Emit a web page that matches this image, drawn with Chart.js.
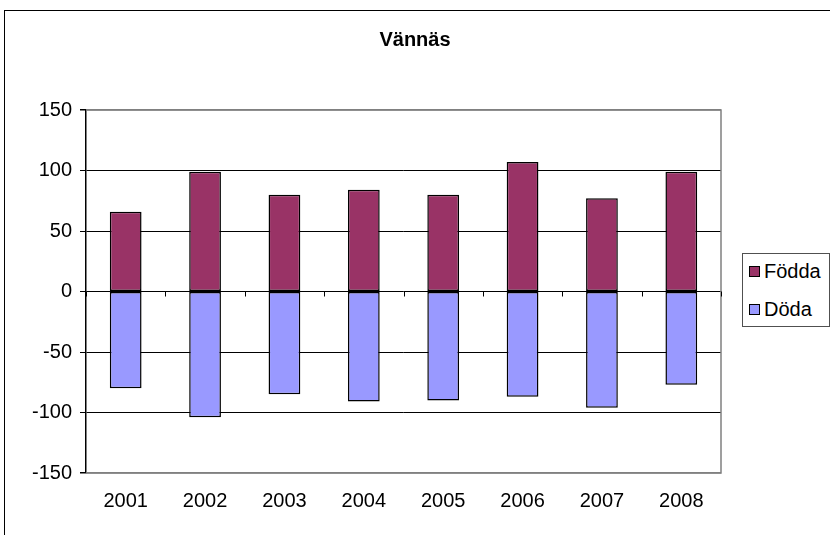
<!DOCTYPE html>
<html>
<head>
<meta charset="utf-8">
<script src="https://cdn.jsdelivr.net/npm/chart.js@4"></script>
<style>
  body { margin: 0; background: #fff; }
  #wrap { position: relative; width: 830px; height: 535px; overflow: hidden; }
  #legend {
    position: absolute; left: 742px; top: 253px; width: 86px; height: 72px;
    border: 1px solid #505050; background: #fff;
    font-family: "Liberation Sans", Arial, sans-serif; font-size: 20px; color: #000;
  }
  .item { position: absolute; left: 6px; height: 24px; line-height: 24px; white-space: nowrap; }
  .box { display: inline-block; width: 9px; height: 9px; border: 1px solid #000; margin-right: 4px; vertical-align: 1px; }
</style>
</head>
<body>
<div id="wrap">
  <canvas id="chart" width="830" height="535"></canvas>
  <div id="legend"></div>
</div>
<script>
const years = ['2001', '2002', '2003', '2004', '2005', '2006', '2007', '2008'];
const fodda = [66, 99, 80, 84, 80, 107, 77, 99];
const doda = [-80, -104, -85, -91, -90, -87, -96, -77];
const yTicks = [-150, -100, -50, 0, 50, 100, 150];

const seriesNames = ['Födda', 'Döda'];
const seriesColors = ['#993366', '#9999FF'];
const fontFamily = '"Liberation Sans", Arial, sans-serif';

// outer frame + plot border + tick marks on the zero line
const framePlugin = {
  id: 'frame',
  beforeDraw(chart) {
    const c = chart.ctx;
    c.save();
    c.fillStyle = '#fff';
    c.fillRect(0, 0, chart.width, chart.height);
    c.strokeStyle = '#000';
    c.lineWidth = 1;
    c.strokeRect(4.5, 10.5, chart.width + 10, chart.height + 10);
    c.restore();
  },
  beforeDatasetsDraw(chart) {
    const c = chart.ctx;
    const a = chart.chartArea;
    const x = chart.scales.x;
    const y = chart.scales.y;
    c.save();
    c.strokeStyle = '#808080';
    c.lineWidth = 1.5;
    c.beginPath();
    c.moveTo(a.left, a.top);
    c.lineTo(a.right, a.top);
    c.lineTo(a.right, a.bottom);
    c.lineTo(a.left, a.bottom);
    c.stroke();
    const y0 = y.getPixelForValue(0);
    c.strokeStyle = '#000';
    c.lineWidth = 1;
    c.beginPath();
    const step = x.getPixelForValue(1) - x.getPixelForValue(0);
    for (let i = 0; i <= years.length; i++) {
      const px = Math.round(x.getPixelForValue(i) - step / 2) + 0.5;
      c.moveTo(px, y0);
      c.lineTo(px, y0 + 5);
    }
    c.stroke();
    c.restore();
  }
};

new Chart(document.getElementById('chart'), {
  type: 'bar',
  data: {
    labels: years,
    datasets: [
      { label: seriesNames[0], data: fodda, backgroundColor: seriesColors[0] },
      { label: seriesNames[1], data: doda, backgroundColor: seriesColors[1] }
    ]
  },
  options: {
    responsive: false,
    animation: false,
    layout: { padding: 0 },
    datasets: {
      bar: {
        borderColor: '#000',
        borderWidth: 1.5,
        borderSkipped: false,
        barPercentage: 0.4,
        categoryPercentage: 1
      }
    },
    plugins: {
      legend: { display: false },
      tooltip: { enabled: false },
      title: {
        display: true,
        text: 'Vännäs',
        color: '#000',
        font: { family: fontFamily, size: 20, weight: 'bold' },
        padding: { top: 28, bottom: 58 }
      }
    },
    scales: {
      x: {
        stacked: true,
        grid: { display: false, drawTicks: false },
        border: { display: false },
        ticks: { color: '#000', padding: 16, font: { family: fontFamily, size: 20 } },
        afterFit(s) { s.height = 62; }
      },
      y: {
        stacked: true,
        min: -150,
        max: 150,
        afterBuildTicks(s) { s.ticks = yTicks.map(v => ({ value: v })); },
        grid: {
          color: ctx => (ctx.tick && Math.abs(ctx.tick.value) === 150) ? '#808080' : '#000',
          lineWidth: ctx => (ctx.tick && Math.abs(ctx.tick.value) === 150) ? 1.5 : 1,
          tickColor: '#000',
          tickLength: 6
        },
        border: { color: '#000', width: 1.5 },
        ticks: { color: '#000', padding: 8, font: { family: fontFamily, size: 20 } },
        afterFit(s) { s.width = 86; }
      },
      yr: {
        position: 'right',
        display: true,
        grid: { display: false },
        border: { display: false },
        ticks: { display: false },
        afterFit(s) { s.width = 109; }
      }
    }
  },
  plugins: [framePlugin]
});

// legend as html
const legend = document.getElementById('legend');
const legendTops = [5, 43];
seriesNames.forEach((name, i) => {
  const d = document.createElement('div');
  d.className = 'item';
  d.style.top = legendTops[i] + 'px';
  d.innerHTML = '<span class="box" style="background:' + seriesColors[i] + '"></span>' + name;
  legend.appendChild(d);
});
</script>
</body>
</html>
